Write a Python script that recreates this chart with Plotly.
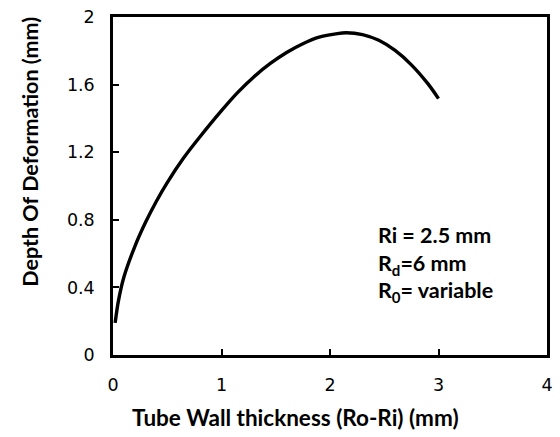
import plotly.graph_objects as go

thickness = [0.02, 0.05, 0.1, 0.2, 0.3, 0.4, 0.5, 0.65, 0.8, 1.0, 1.15, 1.3, 1.45, 1.6, 1.75,
             1.9, 2.05, 2.15, 2.3, 2.45, 2.6, 2.75, 2.9, 3.0]
depth = [0.19, 0.32, 0.46, 0.64, 0.785, 0.91, 1.02, 1.165, 1.29, 1.446, 1.554, 1.647, 1.725, 1.79, 1.842,
         1.881, 1.9, 1.907, 1.896, 1.862, 1.802, 1.717, 1.607, 1.517]

x_ticks = [0, 1, 2, 3, 4]
y_ticks = [0, 0.4, 0.8, 1.2, 1.6, 2]
y_tick_text = ["0", "0.4", "0.8", "1.2", "1.6", "2"]

x_title = "Tube Wall thickness (Ro-Ri) (mm)"
y_title = "Depth Of Deformation (mm)"

notes = ["Ri = 2.5 mm", "R<sub>d</sub>=6 mm", "R<sub>0</sub>= variable"]
note_y = [0.71, 0.535, 0.378]

fig = go.Figure()
fig.add_trace(go.Scatter(x=thickness, y=depth, mode="lines",
                         line=dict(color="black", width=3.4, shape="spline", smoothing=1),
                         showlegend=False))

for t, yy in zip(notes, note_y):
    fig.add_annotation(x=2.42, y=yy, xref="x", yref="y", text="<b>" + t + "</b>",
                       showarrow=False, xanchor="left", yanchor="middle",
                       font=dict(family="Lato", size=21.5, color="black"))

fig.add_annotation(x=0.42, y=-0.185, xref="paper", yref="paper", text="<b>" + x_title + "</b>",
                   showarrow=False, xanchor="center", yanchor="middle",
                   font=dict(family="Lato", size=22.5, color="black"))
fig.add_annotation(x=-0.19, y=0.6, xref="paper", yref="paper", text="<b>" + y_title + "</b>",
                   showarrow=False, xanchor="center", yanchor="middle", textangle=-90,
                   font=dict(family="Lato", size=21.5, color="black"))

tickfont = dict(family="DejaVu Sans", size=17.5, color="black")

fig.update_layout(
    width=560, height=437,
    margin=dict(l=113, r=7, t=10, b=82),
    paper_bgcolor="white", plot_bgcolor="white",
    xaxis=dict(range=[0, 4], tickvals=x_ticks, ticks="inside", ticklen=6, tickwidth=2,
               tickcolor="black", showline=True, linecolor="black", linewidth=2.5,
               mirror=True, showgrid=False, zeroline=False, tickfont=tickfont,
               ticklabelstandoff=12),
    yaxis=dict(range=[0, 2], tickvals=y_ticks, ticktext=y_tick_text, ticks="inside", ticklen=6,
               tickwidth=2, tickcolor="black", showline=True, linecolor="black", linewidth=2.5,
               mirror=True, showgrid=False, zeroline=False, tickfont=tickfont,
               ticklabelstandoff=12),
)

fig.write_html("out.html", config={"displayModeBar": False},
               post_script="document.body.style.margin='0';")
